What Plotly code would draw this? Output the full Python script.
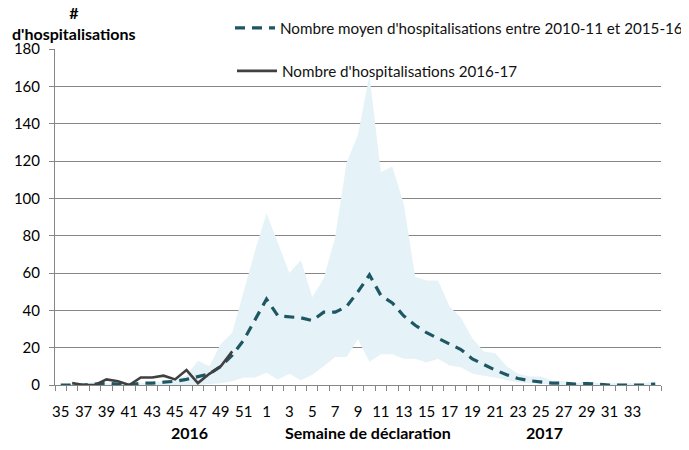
import plotly.graph_objects as go

# Semaines de déclaration : 35-52 (2016) puis 1-35 (2017)
weeks = list(range(35, 53)) + list(range(1, 36))

# moyenne 2010-11 à 2015-16
mean_hosp = [0, 0, 0, 0.5, 1, 0.5, 0, 1, 1, 1.5, 2, 3, 4.5, 6, 10, 16, 24, 35,
             46, 37, 36.5, 36, 34.5, 39, 39, 42, 50, 59, 48, 44, 37, 32, 28, 25,
             22, 19, 14, 11, 8, 5.5, 3.5, 2.3, 1.8, 1, 1, 0.5, 0.8, 0.3, 0, 0, 0,
             0, 0.5]

# min / max des saisons précédentes (bande)
band_max = [0, 0.5, 1, 1.5, 1, 0.5, 1.5, 1, 1.5, 2, 3, 5, 13, 10, 22, 28, 50, 72,
            92, 76, 60, 67, 47, 57, 79, 119, 134, 166, 114, 117, 97, 58, 56, 56,
            42, 36, 25, 18, 17, 10, 6, 4.5, 4.5, 2.3, 2, 1, 2, 1, 1, 1, 1, 1, 2]
band_min = [0, 0, 0, 0, 0, 0, 0, 0, 0, 0, 0, 0, 0, 0.5, 1, 2, 4, 4,
            6.5, 3, 6, 2.5, 5.5, 10, 15, 15, 24.5, 12.5, 16.5, 16.5, 14, 14, 12, 14,
            10.5, 9.5, 6.2, 5, 4, 2.5, 1.5, 1, 0.5, 0.3, 0, 0, 0, 0, 0, 0, 0, 0, 0]

# saison 2016-17
season_2016_17 = [None, 1, 0, 0, 3, 2, 0, 4, 4, 5, 3, 8, 1, 6, 10, 18]

x = list(range(len(weeks)))
tick_idx = x[0:51:2]
tick_txt = [str(weeks[i]) for i in tick_idx]

FONT = "Lato"
GRID = "#868686"

# la page html ajoute 8 px de marge autour de la figure
fig = go.Figure()
fig.add_trace(go.Scatter(x=x, y=band_min, mode="lines", line=dict(width=0),
                         showlegend=False, hoverinfo="skip"))
fig.add_trace(go.Scatter(x=x, y=band_max, mode="lines", line=dict(width=0),
                         fill="tonexty", fillcolor="#e5f2f7",
                         showlegend=False, hoverinfo="skip"))
fig.add_trace(go.Scatter(x=x, y=mean_hosp, mode="lines",
                         name="Nombre moyen d'hospitalisations entre 2010-11 et 2015-16",
                         line=dict(color="#1e5763", width=3.2, dash="10px,7px"),
                         legend="legend"))
fig.add_trace(go.Scatter(x=x[:len(season_2016_17)], y=season_2016_17, mode="lines",
                         name="Nombre d'hospitalisations 2016-17",
                         line=dict(color="#404040", width=2.6),
                         legend="legend2"))

fig.update_layout(
    width=681, height=442,
    margin=dict(l=47, r=28, t=41, b=65, autoexpand=False),
    paper_bgcolor="white", plot_bgcolor="white",
    font=dict(family=FONT, size=15, color="#000000"),
    legend=dict(x=(230 - 55) / 606, y=(385 - 28) / 336, xanchor="left", yanchor="middle",
                bgcolor="rgba(0,0,0,0)", itemwidth=40,
                font=dict(family=FONT, size=15.2, color="#111111")),
    legend2=dict(x=(232 - 55) / 606, y=(385 - 71) / 336, xanchor="left", yanchor="middle",
                 bgcolor="rgba(0,0,0,0)", itemwidth=40,
                 font=dict(family=FONT, size=15.2, color="#111111")),
    xaxis=dict(range=[-0.5, len(weeks) - 0.5], tickmode="array",
               tickvals=tick_idx, ticktext=tick_txt, ticks="",
               showgrid=False, zeroline=False, showline=True,
               linecolor=GRID, linewidth=1, ticklabelstandoff=13,
               minor=dict(tickmode="linear", tick0=-0.5, dtick=1,
                          ticks="outside", ticklen=5, tickcolor=GRID,
                          showgrid=False)),
    yaxis=dict(range=[0, 180], dtick=20, showgrid=True, gridcolor=GRID,
               gridwidth=1, zeroline=False, showline=True, linecolor=GRID,
               ticks="outside", ticklen=5, tickcolor=GRID,
               ticklabelstandoff=6),
)

bold = dict(family=FONT, size=16, color="#000000", weight="bold")
fig.add_annotation(text="#<br>d'hospitalisations", xref="paper", yref="paper",
                   x=(74 - 55) / 606, y=(385 - 23) / 336, showarrow=False,
                   xanchor="center", yanchor="middle", font=bold, align="center")
for label, px in [("2016", 189), ("Semaine de déclaration", 368), ("2017", 544)]:
    fig.add_annotation(text=label, xref="paper", yref="paper",
                       x=(px - 55) / 606, y=(385 - 432) / 336,
                       xanchor="center", yanchor="middle",
                       showarrow=False, font=bold)

fig.write_html("out.html")
